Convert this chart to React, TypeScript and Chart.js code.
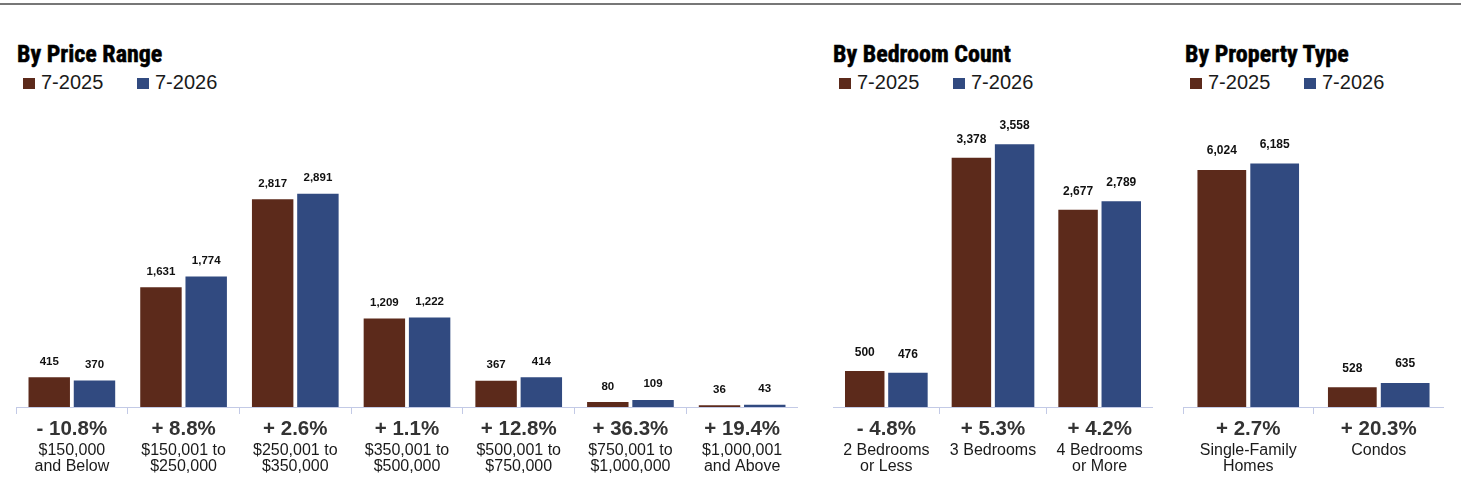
import React, { useEffect, useRef } from "react";
import { Chart, registerables } from "chart.js";

Chart.register(...registerables);

// ---------- data ----------
const seriesLabels = ["7-2025", "7-2026"];
const seriesColors = ["#5c2a1b", "#314a80"];

const priceCategories = [
  ["$150,000", "and Below"],
  ["$150,001 to", "$250,000"],
  ["$250,001 to", "$350,000"],
  ["$350,001 to", "$500,000"],
  ["$500,001 to", "$750,000"],
  ["$750,001 to", "$1,000,000"],
  ["$1,000,001", "and Above"],
];
const price2025 = [415, 1631, 2817, 1209, 367, 80, 36];
const price2026 = [370, 1774, 2891, 1222, 414, 109, 43];
const priceChange = ["- 10.8%", "+ 8.8%", "+ 2.6%", "+ 1.1%", "+ 12.8%", "+ 36.3%", "+ 19.4%"];

const bedCategories = [["2 Bedrooms", "or Less"], ["3 Bedrooms"], ["4 Bedrooms", "or More"]];
const bed2025 = [500, 3378, 2677];
const bed2026 = [476, 3558, 2789];
const bedChange = ["- 4.8%", "+ 5.3%", "+ 4.2%"];

const typeCategories = [["Single-Family", "Homes"], ["Condos"]];
const type2025 = [6024, 528];
const type2026 = [6185, 635];
const typeChange = ["+ 2.7%", "+ 20.3%"];

const priceMax = 4000;
const bedMax = 4000;
const typeMax = 7500;

// ---------- styles ----------
const AXIS = "#c3cae6";
const SANS = '"Liberation Sans", Arial, Helvetica, sans-serif';
const COND = '"Roboto Condensed", "DejaVu Sans Condensed", "Liberation Sans", sans-serif';

type BarProps = {
  left: number;
  width: number;
  categories: string[][];
  changes: string[];
  a: number[];
  b: number[];
  yMax: number;
  valueSize: number;
  gap: number;
};

const TOP = 100;
const HEIGHT = 374;

function BarPanel(p: BarProps) {
  const ref = useRef<HTMLCanvasElement | null>(null);
  useEffect(() => {
    if (!ref.current) return;
    const valueLabels = {
      id: "valueLabels",
      afterDatasetsDraw(chart: any) {
        const ctx = chart.ctx;
        ctx.save();
        ctx.font = `bold ${p.valueSize}px ${SANS}`;
        ctx.fillStyle = "#111";
        ctx.textAlign = "center";
        ctx.textBaseline = "alphabetic";
        chart.data.datasets.forEach((ds: any, i: number) => {
          const meta = chart.getDatasetMeta(i);
          meta.data.forEach((bar: any, j: number) => {
            const v = ds.data[j] as number;
            ctx.fillText(v.toLocaleString("en-US"), bar.x, bar.y - p.gap);
          });
        });
        ctx.restore();
      },
    };
    const chart = new Chart(ref.current, {
      type: "bar",
      data: {
        labels: p.changes,
        datasets: [0, 1].map((k) => ({
          label: seriesLabels[k],
          data: k === 0 ? p.a : p.b,
          backgroundColor: seriesColors[k],
          borderColor: "rgba(255,255,255,0.45)",
          borderWidth: 1,
          categoryPercentage: 0.81,
          barPercentage: 0.96,
          xAxisID: "x",
        })),
      },
      options: {
        animation: false,
        responsive: false,
        maintainAspectRatio: false,
        layout: { padding: { top: 10.6, left: 0, right: 0, bottom: 0 } },
        plugins: {
          legend: { display: false },
          title: { display: false },
          tooltip: { enabled: false },
        },
        scales: {
          x: {
            type: "category",
            position: "bottom",
            weight: 0,
            labels: p.changes,
            offset: true,
            afterFit: (s: any) => {
              s.height = 34;
            },
            grid: {
              display: true,
              drawOnChartArea: false,
              drawTicks: true,
              tickLength: 7,
              color: AXIS,
              offset: true,
            },
            border: { display: true, color: AXIS, width: 1 },
            ticks: {
              font: { family: SANS, size: 20.5, weight: "bold", lineHeight: 1.2 },
              color: "#333",
              padding: 3,
              maxRotation: 0,
              autoSkip: false,
            },
          },
          x2: {
            type: "category",
            position: "bottom",
            weight: 1,
            labels: p.categories as any,
            offset: true,
            afterFit: (s: any) => {
              s.height = 33;
            },
            grid: { display: false, drawTicks: false, tickLength: 0 },
            border: { display: false },
            ticks: {
              font: { family: SANS, size: 16, lineHeight: 1.03 },
              color: "#1a1a1a",
              padding: 1,
              maxRotation: 0,
              autoSkip: false,
            },
          },
          y: { display: false, min: 0, max: p.yMax },
        },
      } as any,
      plugins: [valueLabels],
    });
    return () => chart.destroy();
  }, []);
  return (
    <canvas
      ref={ref}
      width={p.width}
      height={HEIGHT}
      style={{ position: "absolute", left: p.left, top: TOP, width: p.width, height: HEIGHT }}
    />
  );
}

function Header(props: { title: string; titleLeft: number; legendLeft: number }) {
  return (
    <>
      <div
        style={{
          position: "absolute",
          left: props.titleLeft,
          top: 42,
          font: `bold 24px/24px ${COND}`,
          color: "#000",
          WebkitTextStroke: "0.5px #000",
          whiteSpace: "nowrap",
        }}
      >
        {props.title}
      </div>
      {seriesLabels.map((s, i) => (
        <React.Fragment key={s}>
          <div
            style={{
              position: "absolute",
              left: props.legendLeft + i * 114,
              top: 78,
              width: 12,
              height: 11,
              background: seriesColors[i],
            }}
          />
          <div
            style={{
              position: "absolute",
              left: props.legendLeft + 18 + i * 114,
              top: 72.4,
              font: `20px/20px ${SANS}`,
              color: "#1a1a1a",
              whiteSpace: "nowrap",
            }}
          >
            {s}
          </div>
        </React.Fragment>
      ))}
    </>
  );
}

export default function App() {
  useEffect(() => {
    document.body.style.margin = "0";
  }, []);
  return (
    <div style={{ position: "relative", width: 1461, height: 494, background: "#fff", overflow: "hidden" }}>
      <div style={{ position: "absolute", left: 0, top: 2.5, width: 1461, height: 2, background: "#777" }} />
      <Header title="By Price Range" titleLeft={17} legendLeft={23} />
      <Header title="By Bedroom Count" titleLeft={833} legendLeft={839} />
      <Header title="By Property Type" titleLeft={1185} legendLeft={1190} />
      <BarPanel
        left={16}
        width={782}
        categories={priceCategories}
        changes={priceChange}
        a={price2025}
        b={price2026}
        yMax={priceMax}
        valueSize={11.5}
        gap={11.5}
      />
      <BarPanel
        left={833}
        width={320}
        categories={bedCategories}
        changes={bedChange}
        a={bed2025}
        b={bed2026}
        yMax={bedMax}
        valueSize={12}
        gap={14}
      />
      <BarPanel
        left={1183}
        width={261}
        categories={typeCategories}
        changes={typeChange}
        a={type2025}
        b={type2026}
        yMax={typeMax}
        valueSize={12}
        gap={14.6}
      />
    </div>
  );
}
